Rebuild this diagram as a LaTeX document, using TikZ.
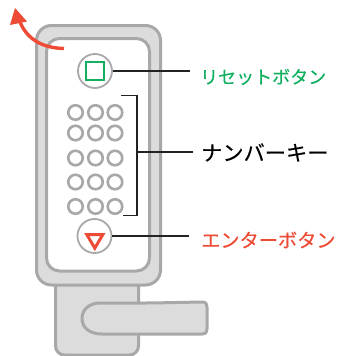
\documentclass[tikz,border=0pt]{standalone}
\usepackage{fontspec}
\newfontfamily\jp[FakeBold=0.25]{Noto Sans CJK JP}
\definecolor{plate}{HTML}{DCDCDC}
\definecolor{edge}{HTML}{A8A8A8}
\definecolor{grn}{HTML}{10B060}
\definecolor{rd}{HTML}{EE4B36}
\definecolor{lead}{HTML}{222222}
\tikzset{
  part/.style={fill=plate,draw=edge,line width=3pt,line join=round},
  btn/.style={circle,draw=edge,line width=1.8pt,fill=white,minimum size=34pt,inner sep=0pt},
  keyc/.style={circle,draw=edge,line width=2.6pt,fill=white,minimum size=14.5pt,inner sep=0pt},
  leadline/.style={draw=lead,line width=1.4pt},
  lbl/.style={anchor=west,inner sep=0pt}
}
\begin{document}
\begin{tikzpicture}[x=1pt,y=-1pt]
\useasboundingbox (0,0) rectangle (337,356);
\fill[white] (0,0) rectangle (337,356);
% base plate
\draw[part,rounded corners=9pt] (55.5,280) -- (55.5,355) -- (138.5,355) -- (138.5,280);
% lock body
\draw[part,rounded corners=15pt] (36.5,25.5) rectangle (160.5,285);
\draw[fill=white,draw=edge,line width=3pt,rounded corners=13pt] (46.5,38.5) rectangle (149.5,271);
% lever
\draw[part] (100,303) .. controls (140,303.5) and (175,302.5) .. (202,302)
  .. controls (206,302) and (207,304) .. (207,307) -- (207,329)
  .. controls (207,332) and (206,334) .. (202,334) -- (128,334) -- (102,334)
  .. controls (90,334) and (82,328) .. (82,318.5)
  .. controls (82,309) and (90,303) .. (100,303) -- cycle;
% arrow
\coordinate (arrowstart) at (64,48.5);
\coordinate (arrowend) at (20,22);
\draw[rd,line width=3.4pt] (arrowstart) .. controls (42,48) and (27,39) .. (arrowend);
\fill[rd] (15,8) -- (27,21.5) -- (10,25) -- cycle;
% reset button
\node[btn] (reset) at (95,71) {};
\node[draw=grn,line width=2.3pt,minimum size=17.5pt,inner sep=0pt] (square) at (95,71) {};
% keys
\foreach \r/\y in {1/112.5,2/133,3/158,4/182,5/206.5}
  \foreach \c/\x in {1/75.5,2/95.5,3/115}
    \node[keyc] (k\r\c) at (\x,\y) {};
% enter button
\node[btn] (enter) at (94.5,236) {};
\draw[rd,line width=3pt,line join=miter] (86.8,234.6) -- (102.8,234.6) -- (94.8,248.2) -- cycle;
% bracket
\coordinate (b1) at (121,95.5);
\coordinate (b2) at (137,95.5);
\coordinate (b3) at (137,215.5);
\coordinate (b4) at (123,215.5);
\coordinate (bm) at (137,152);
\draw[leadline,line join=miter] (b1) -- (b2) -- (b3) -- (b4);
% labels
\node[lbl,text=grn,font=\jp\fontsize{18}{18}\selectfont] (lreset) at (200,77) {リセットボタン};
\node[lbl,text=black,font=\jp\fontsize{21.2}{21}\selectfont] (lkey) at (201,152.5) {ナンバーキー};
\node[lbl,text=rd,font=\jp\fontsize{19.2}{19}\selectfont] (lenter) at (201,240) {エンターボタン};
% leaders
\coordinate (e1) at (190,71);
\coordinate (e2) at (193,152);
\coordinate (e3) at (189,236);
\draw[leadline] (reset.east) -- (e1);
\draw[leadline] (bm) -- (e2);
\draw[leadline] (enter.east) -- (e3);
\end{tikzpicture}
\end{document}
